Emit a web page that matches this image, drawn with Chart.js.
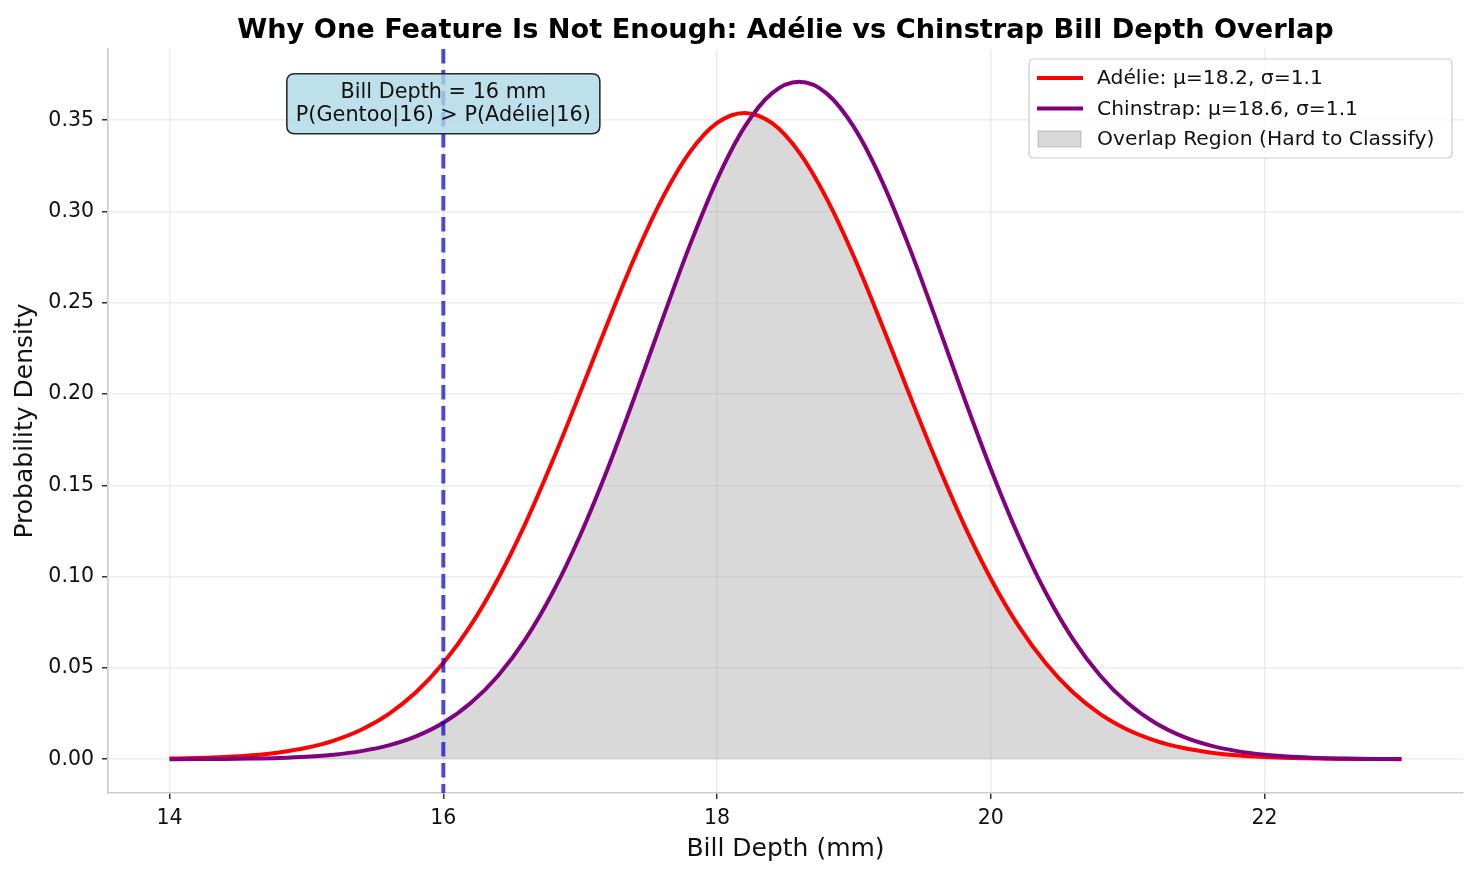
<!DOCTYPE html>
<html>
<head>
<meta charset="utf-8">
<script src="https://cdn.jsdelivr.net/npm/chart.js@4.4.1/dist/chart.umd.min.js"></script>
<style>
  html, body { margin: 0; padding: 0; background: #fff; }
  #wrap { width: 1477px; height: 876px; }
</style>
</head>
<body>
<div id="wrap"><canvas id="densityChart" width="1477" height="876"></canvas></div>
<script>
// bill depth grid (mm) and densities
const depthX = [14.0, 14.2, 14.4, 14.6, 14.8, 15.0, 15.2, 15.4, 15.6, 15.8,
  16.0, 16.2, 16.4, 16.6, 16.8, 17.0, 17.2, 17.4, 17.6, 17.8,
  18.0, 18.2, 18.4, 18.6, 18.8, 19.0, 19.2, 19.4, 19.6, 19.8,
  20.0, 20.2, 20.4, 20.6, 20.8, 21.0, 21.2, 21.4, 21.6, 21.8,
  22.0, 22.2, 22.4, 22.6, 22.8, 23.0];
const adelieY = [0.00034, 0.00065, 0.00120, 0.00215, 0.00374, 0.00628, 0.01024, 0.01617, 0.02473, 0.03666,
  0.05268, 0.07332, 0.09888, 0.1292, 0.1637, 0.2008, 0.2388, 0.2752, 0.3072, 0.3324,
  0.3485, 0.3540, 0.3485, 0.3324, 0.3072, 0.2752, 0.2388, 0.2008, 0.1637, 0.1292,
  0.09888, 0.07332, 0.05268, 0.03666, 0.02473, 0.01617, 0.01024, 0.00628, 0.00374, 0.00215,
  0.00120, 0.00065, 0.00034, 0.00017, 0.00009, 0.00004];
const chinstrapY = [0.00004, 0.00009, 0.00018, 0.00037, 0.00072, 0.00137, 0.00250, 0.00443, 0.00757, 0.01250,
  0.01995, 0.03074, 0.04575, 0.06578, 0.09143, 0.1227, 0.1590, 0.1990, 0.2408, 0.2813,
  0.3175, 0.3462, 0.3647, 0.3710, 0.3647, 0.3462, 0.3175, 0.2813, 0.2408, 0.1990,
  0.1590, 0.1227, 0.09143, 0.06578, 0.04575, 0.03074, 0.01995, 0.01250, 0.00757, 0.00443,
  0.00250, 0.00137, 0.00072, 0.00037, 0.00018, 0.00009];
// overlap = lower of the two curves (extra point where they cross)
const overlapX = [14.0, 14.2, 14.4, 14.6, 14.8, 15.0, 15.2, 15.4, 15.6, 15.8,
  16.0, 16.2, 16.4, 16.6, 16.8, 17.0, 17.2, 17.4, 17.6, 17.8,
  18.0, 18.2, 18.265, 18.4, 18.6, 18.8, 19.0, 19.2, 19.4, 19.6, 19.8,
  20.0, 20.2, 20.4, 20.6, 20.8, 21.0, 21.2, 21.4, 21.6, 21.8,
  22.0, 22.2, 22.4, 22.6, 22.8, 23.0];
const overlapY = [0.00004, 0.00009, 0.00018, 0.00037, 0.00072, 0.00137, 0.00250, 0.00443, 0.00757, 0.01250,
  0.01995, 0.03074, 0.04575, 0.06578, 0.09143, 0.1227, 0.1590, 0.1990, 0.2408, 0.2813,
  0.3175, 0.3462, 0.3534, 0.3485, 0.3324, 0.3072, 0.2752, 0.2388, 0.2008, 0.1637, 0.1292,
  0.09888, 0.07332, 0.05268, 0.03666, 0.02473, 0.01617, 0.01024, 0.00628, 0.00374, 0.00215,
  0.00120, 0.00065, 0.00034, 0.00017, 0.00009, 0.00004];

const xTicks = [14, 16, 18, 20, 22];
const yTicks = [0, 0.05, 0.10, 0.15, 0.20, 0.25, 0.30, 0.35];
const seriesLabels = ['Adélie: μ=18.2, σ=1.1', 'Chinstrap: μ=18.6, σ=1.1', 'Overlap Region (Hard to Classify)'];
const markerDepth = 16;
const noteY = 0.359;
const noteLines = ['Bill Depth = 16 mm', 'P(Gentoo|16) > P(Adélie|16)'];
const chartTitle = 'Why One Feature Is Not Enough: Adélie vs Chinstrap Bill Depth Overlap';

const FONT = '"DejaVu Sans", "Liberation Sans", sans-serif';
const RED = '#ff0000';
const PURPLE = '#800080';
const GRAYFILL = 'rgba(128,128,128,0.3)';

const toPts = (xs, ys) => xs.map((x, i) => ({ x: x, y: ys[i] }));

function roundRect(ctx, x, y, w, h, r) {
  ctx.beginPath();
  ctx.moveTo(x + r, y);
  ctx.lineTo(x + w - r, y);
  ctx.quadraticCurveTo(x + w, y, x + w, y + r);
  ctx.lineTo(x + w, y + h - r);
  ctx.quadraticCurveTo(x + w, y + h, x + w - r, y + h);
  ctx.lineTo(x + r, y + h);
  ctx.quadraticCurveTo(x, y + h, x, y + h - r);
  ctx.lineTo(x, y + r);
  ctx.quadraticCurveTo(x, y, x + r, y);
  ctx.closePath();
}

const overlayPlugin = {
  id: 'overlay',
  afterDatasetsDraw(chart) {
    const { ctx, chartArea: a, scales: { x, y } } = chart;

    // vertical dashed line at 16 mm
    const px = x.getPixelForValue(markerDepth);
    ctx.save();
    ctx.strokeStyle = 'rgba(0,0,205,0.7)';
    ctx.lineWidth = 4;
    ctx.setLineDash([14.5, 6.5]);
    ctx.beginPath();
    ctx.moveTo(px, a.top);
    ctx.lineTo(px, a.bottom);
    ctx.stroke();
    ctx.restore();

    // annotation box
    ctx.save();
    ctx.font = '20.8px ' + FONT;
    const tw = Math.max(...noteLines.map(t => ctx.measureText(t).width));
    const bw = tw + 18, bh = 60;
    const cy = y.getPixelForValue(noteY);
    const bx = px - bw / 2, by = cy - bh / 2;
    roundRect(ctx, bx, by, bw, bh, 8);
    ctx.fillStyle = 'rgba(173,216,230,0.8)';
    ctx.fill();
    ctx.lineWidth = 1.6;
    ctx.strokeStyle = '#2b2b2b';
    ctx.stroke();
    ctx.fillStyle = '#111';
    ctx.textAlign = 'center';
    ctx.textBaseline = 'alphabetic';
    ctx.fillText(noteLines[0], px, by + 24);
    ctx.fillText(noteLines[1], px, by + 47);
    ctx.restore();

    // legend
    ctx.save();
    const lw = 423, lh = 99;
    const lx = a.right - 11 - lw, ly = a.top + 10;
    roundRect(ctx, lx, ly, lw, lh, 5);
    ctx.fillStyle = 'rgba(255,255,255,0.8)';
    ctx.fill();
    ctx.lineWidth = 1.2;
    ctx.strokeStyle = '#cccccc';
    ctx.stroke();
    const rows = [ly + 19, ly + 49.5, ly + 80];
    ctx.lineWidth = 4;
    ctx.strokeStyle = RED;
    ctx.beginPath(); ctx.moveTo(lx + 8, rows[0]); ctx.lineTo(lx + 54, rows[0]); ctx.stroke();
    ctx.strokeStyle = PURPLE;
    ctx.beginPath(); ctx.moveTo(lx + 8, rows[1]); ctx.lineTo(lx + 54, rows[1]); ctx.stroke();
    ctx.fillStyle = GRAYFILL;
    ctx.fillRect(lx + 9, rows[2] - 8, 43, 16);
    ctx.lineWidth = 1;
    ctx.strokeStyle = 'rgba(128,128,128,0.45)';
    ctx.strokeRect(lx + 9, rows[2] - 8, 43, 16);
    ctx.font = '20.3px ' + FONT;
    ctx.fillStyle = '#111';
    ctx.textAlign = 'left';
    ctx.textBaseline = 'middle';
    seriesLabels.forEach((t, i) => ctx.fillText(t, lx + 68, rows[i] + 1));
    ctx.restore();

    // title
    ctx.save();
    ctx.font = 'bold 27.2px ' + FONT;
    ctx.fillStyle = '#000';
    ctx.textAlign = 'center';
    ctx.textBaseline = 'alphabetic';
    ctx.fillText(chartTitle, (a.left + a.right) / 2, 38);
    ctx.restore();
  }
};

const ctx = document.getElementById('densityChart').getContext('2d');
const densityChart = new Chart(ctx, {
  type: 'line',
  data: {
    datasets: [
      {
        label: seriesLabels[1],
        data: toPts(depthX, chinstrapY),
        borderColor: PURPLE,
        borderWidth: 4,
        pointRadius: 0,
        cubicInterpolationMode: 'monotone',
        fill: false,
        order: 0
      },
      {
        label: seriesLabels[0],
        data: toPts(depthX, adelieY),
        borderColor: RED,
        borderWidth: 4,
        pointRadius: 0,
        cubicInterpolationMode: 'monotone',
        fill: false,
        order: 1
      },
      {
        label: seriesLabels[2],
        data: toPts(overlapX, overlapY),
        borderWidth: 0,
        borderColor: 'rgba(0,0,0,0)',
        backgroundColor: GRAYFILL,
        pointRadius: 0,
        cubicInterpolationMode: 'monotone',
        fill: 'origin',
        order: 2
      }
    ]
  },
  options: {
    responsive: false,
    animation: false,
    devicePixelRatio: 1,
    events: [],
    layout: { padding: { top: 49, right: 14, left: 0, bottom: 0 } },
    plugins: {
      legend: { display: false },
      title: { display: false },
      tooltip: { enabled: false }
    },
    scales: {
      x: {
        type: 'linear',
        min: 13.55,
        max: 23.45,
        afterBuildTicks: s => { s.ticks = xTicks.map(v => ({ value: v })); },
        afterFit: s => { s.height = 83; },
        ticks: {
          autoSkip: false,
          maxRotation: 0,
          padding: 7,
          color: '#111',
          font: { family: FONT, size: 20.5 },
          callback: v => String(v)
        },
        grid: {
          color: 'rgba(176,176,176,0.22)',
          lineWidth: 1.5,
          tickColor: '#333',
          tickLength: 6
        },
        border: { color: '#cccccc', width: 1.6 },
        title: {
          display: true,
          text: 'Bill Depth (mm)',
          color: '#111',
          font: { family: FONT, size: 25 },
          padding: { top: 0, bottom: 12 }
        }
      },
      y: {
        min: -0.0185,
        max: 0.389,
        afterBuildTicks: s => { s.ticks = yTicks.map(v => ({ value: v })); },
        afterFit: s => { s.width = 108; },
        ticks: {
          autoSkip: false,
          padding: 8,
          color: '#111',
          font: { family: FONT, size: 20.5 },
          callback: v => v.toFixed(2)
        },
        grid: {
          color: 'rgba(176,176,176,0.22)',
          lineWidth: 1.5,
          tickColor: '#333',
          tickLength: 6
        },
        border: { color: '#cccccc', width: 1.6 },
        title: {
          display: true,
          text: 'Probability Density',
          color: '#111',
          font: { family: FONT, size: 25 },
          padding: { top: 10, bottom: 0 }
        }
      }
    }
  },
  plugins: [overlayPlugin]
});
</script>
</body>
</html>
